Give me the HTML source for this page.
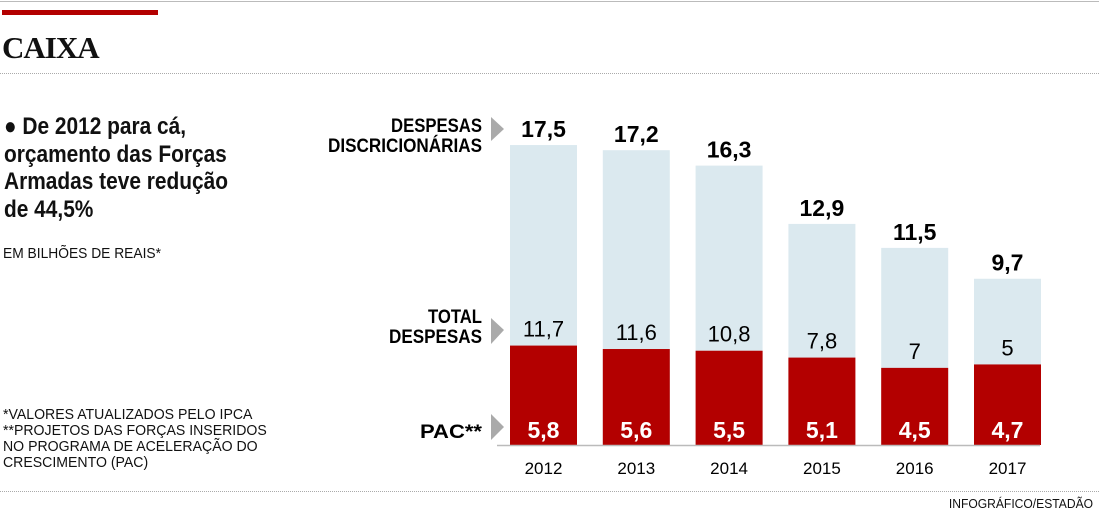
<!DOCTYPE html>
<html><head><meta charset="utf-8"><style>
body{margin:0;width:1099px;height:518px;background:#fff;overflow:hidden;position:relative;font-family:"Liberation Sans Narrow","Liberation Sans",sans-serif;color:#111}
.a{position:absolute;white-space:nowrap}
</style></head><body>
<div class="a" style="left:0;top:1px;width:1099px;height:1px;background:#bbb"></div>
<div class="a" style="left:2px;top:10px;width:156px;height:5px;background:#b30000"></div>
<div class="a" style="left:2px;top:30px;font-family:'Liberation Serif',serif;font-weight:bold;font-size:31px;letter-spacing:-1px">CAIXA</div>
<div class="a" style="left:0;top:73px;width:1099px;border-top:1px dotted #aaa"></div>
<div class="a" style="left:4px;top:113px;font-size:24px;font-weight:bold;line-height:27.5px;transform:scaleX(0.87);transform-origin:0 0">● De 2012 para cá,<br>orçamento das Forças<br>Armadas teve redução<br>de 44,5%</div>
<div class="a" style="left:3px;top:245px;font-size:15px;transform:scaleX(0.92);transform-origin:0 0">EM BILHÕES DE REAIS*</div>
<div class="a" style="left:3px;top:407px;font-size:15px;line-height:16px;transform:scaleX(0.94);transform-origin:0 0">*VALORES ATUALIZADOS PELO IPCA<br>**PROJETOS DAS FORÇAS INSERIDOS<br>NO PROGRAMA DE ACELERAÇÃO DO<br>CRESCIMENTO (PAC)</div>
<div class="a" style="left:0;top:491px;width:1099px;border-top:1px dotted #aaa"></div>
<div class="a" style="right:6px;top:496px;font-size:13px;transform:scaleX(0.93);transform-origin:100% 0">INFOGRÁFICO/ESTADÃO</div>
<svg class="a" style="left:0;top:0" width="1099" height="518" font-family="Liberation Sans Narrow, Liberation Sans, sans-serif">
<g font-size="19" font-weight="bold" lengthAdjust="spacingAndGlyphs">
<text x="391" y="132" textLength="91" lengthAdjust="spacingAndGlyphs">DESPESAS</text><text x="328" y="152" textLength="154" lengthAdjust="spacingAndGlyphs">DISCRICIONÁRIAS</text>
<text x="428" y="323" textLength="54" lengthAdjust="spacingAndGlyphs">TOTAL</text><text x="389" y="343" textLength="93" lengthAdjust="spacingAndGlyphs">DESPESAS</text>
<text x="420" y="438" textLength="62" lengthAdjust="spacingAndGlyphs">PAC**</text>
</g>
<g fill="#aaa"><polygon points="491,117 504,129 491,141"/><polygon points="491,318 504,330 491,344"/><polygon points="491,414 504,427 491,440"/></g>
<g id="bars"></g>
<line x1="497" y1="445.5" x2="1040" y2="445.5" stroke="#bbb" stroke-width="1.5"/>
</svg>
<script>
var d=[[17.5,11.7,5.8,2012],[17.2,11.6,5.6,2013],[16.3,10.8,5.5,2014],[12.9,7.8,5.1,2015],[11.5,7,4.5,2016],[9.7,5,4.7,2017]];
var s="",k=17.14,b=445;
d.forEach(function(r,i){var x=510+i*92.8,w=67,c=x+w/2,f=function(v){return String(v).replace('.',',')};
var t=b-r[0]*k,p=b-r[2]*k;
s+='<rect x="'+x+'" y="'+t+'" width="'+w+'" height="'+(b-t)+'" fill="#dbe9ef"/>';
s+='<rect x="'+x+'" y="'+p+'" width="'+w+'" height="'+(b-p)+'" fill="#b30000"/>';
s+='<text x="'+c+'" y="'+(t-8)+'" font-size="23" font-weight="bold" text-anchor="middle">'+f(r[0])+'</text>';
s+='<text x="'+c+'" y="'+(p-9)+'" font-size="22" text-anchor="middle">'+f(r[1])+'</text>';
s+='<text x="'+c+'" y="438" font-size="23" font-weight="bold" fill="#fff" text-anchor="middle">'+f(r[2])+'</text>';
s+='<text x="'+c+'" y="474" font-size="17" text-anchor="middle">'+r[3]+'</text>';});
document.getElementById('bars').innerHTML=s;
</script>
</body></html>
